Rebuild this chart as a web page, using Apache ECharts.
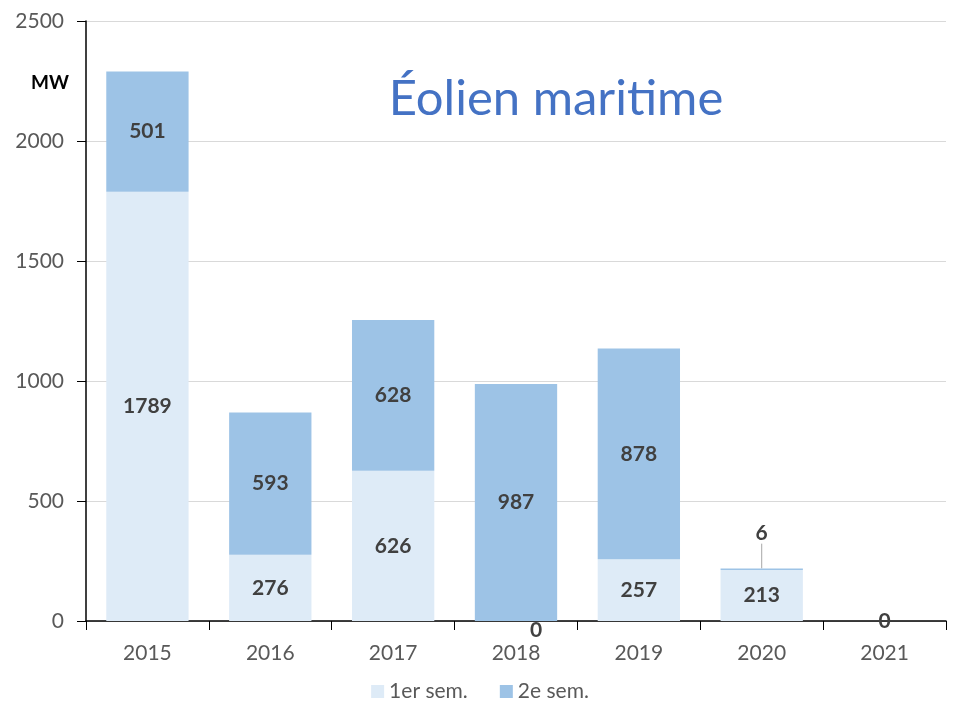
<!DOCTYPE html>
<html><head><meta charset="utf-8">
<script src="https://cdn.jsdelivr.net/npm/echarts@6/dist/echarts.min.js"></script>
<style>html,body{margin:0;padding:0;background:#fff}#c{width:960px;height:720px}</style>
</head><body><div id="c"></div>
<script>
const categories = ['2015','2016','2017','2018','2019','2020','2021'];
const sem1 = [1789, 276, 626, 0, 257, 213, 0];
const sem2 = [501, 593, 628, 987, 878, 6, 0];
const yTicks = [0, 500, 1000, 1500, 2000, 2500];

const FONT = 'Lato';
const chart = echarts.init(document.getElementById('c'));
const lblStyle = {show: true, position: 'inside', fontFamily: FONT, fontWeight: 'bold', fontSize: 21, color: '#404040'};

chart.setOption({
  animation: false,
  textStyle: {fontFamily: FONT},
  title: [
    {text: 'Éolien maritime', left: 551, top: 70, textAlign: 'center',
     textStyle: {fontFamily: FONT, fontSize: 49, fontWeight: 'normal', color: '#4472C4'}},
    {text: 'MW', left: 45, top: 68, textAlign: 'center',
     textStyle: {fontFamily: FONT, fontSize: 19, fontWeight: 'bold', color: '#000'}}
  ],
  legend: {
    bottom: 13, left: 'center', itemWidth: 13, itemHeight: 13, itemGap: 32,
    icon: 'rect',
    textStyle: {fontFamily: FONT, fontSize: 21, color: '#595959'},
    data: ['1er sem.', '2e sem.']
  },
  grid: {left: 86, right: 14, top: 21, bottom: 99},
  xAxis: {
    type: 'category', data: categories,
    axisLine: {lineStyle: {color: '#000', width: 1.5}},
    axisTick: {show: true, length: 9, lineStyle: {color: '#000'}},
    axisLabel: {fontFamily: FONT, fontSize: 21, color: '#595959', margin: 22}
  },
  yAxis: {
    type: 'value', min: yTicks[0], max: yTicks[yTicks.length-1], interval: 500,
    axisLine: {show: true, lineStyle: {color: '#000', width: 1.5}},
    axisTick: {show: true, length: 9, lineStyle: {color: '#000'}},
    splitLine: {lineStyle: {color: '#D9D9D9'}},
    axisLabel: {fontFamily: FONT, fontSize: 21, color: '#595959', margin: 22, formatter: v => String(v)}
  },
  series: [
    {
      name: '1er sem.', type: 'bar', stack: 'a', barWidth: '67%',
      itemStyle: {color: '#DEEBF7'},
      label: lblStyle,
      data: sem1.map((v, i) => {
        if (i === 3) return {value: v, label: {offset: [20, 9]}};
        return v;
      })
    },
    {
      name: '2e sem.', type: 'bar', stack: 'a', barWidth: '67%',
      itemStyle: {color: '#9DC3E6'},
      label: lblStyle,
      labelLine: {show: true, lineStyle: {color: '#A6A6A6', width: 1}},
      labelLayout: function (p) {
        if (p.dataIndex === 5) return {dy: -36};
        return {};
      },
      data: sem2.map((v, i) => {
        if (i === 6) return {value: v, label: {show: false}};
        return v;
      })
    }
  ]
});
</script></body></html>
